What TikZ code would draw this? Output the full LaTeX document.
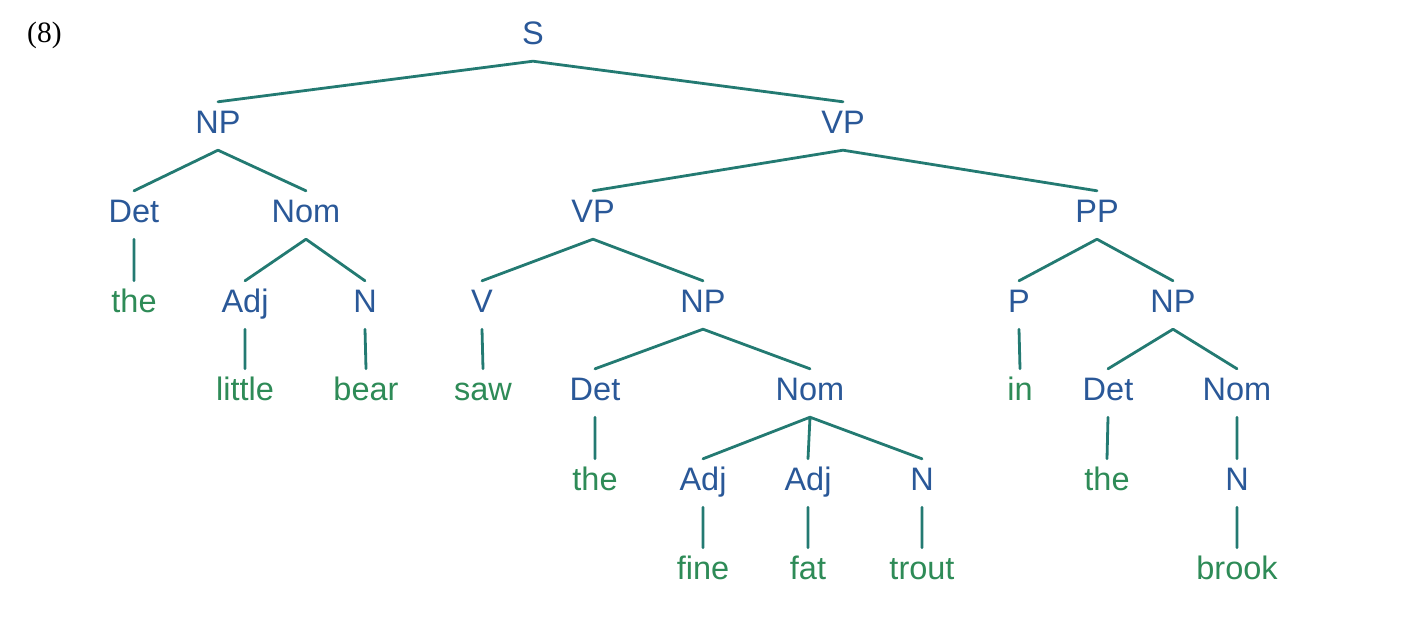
\documentclass[tikz,border=0pt]{standalone}
\usepackage{fontspec}
\setmainfont{Liberation Sans}
\newfontfamily\serifnum{Liberation Serif}
\definecolor{catblue}{HTML}{2A5898}
\definecolor{wordgreen}{HTML}{2E8B57}
\definecolor{edgeteal}{HTML}{237A72}
\tikzset{
  lbl/.style={anchor=base, inner xsep=0pt, inner ysep=9pt, text height=22pt, text depth=8pt,
    font=\fontsize{32.5}{36}\selectfont},
  cat/.style={lbl, text=catblue},
  word/.style={lbl, text=wordgreen},
  edge/.style={draw=edgeteal, line width=2.8pt, line cap=round}
}
\begin{document}
\begin{tikzpicture}[x=1pt, y={(0pt,-1pt)}]
\useasboundingbox (0,0) rectangle (1418,622);
\node[anchor=base west, inner sep=0pt, font=\serifnum\fontsize{29.5}{34}\selectfont] (ex) at (27,42) {(8)};
% row 1
\node[cat] (S) at (533,44) {S};
% row 2
\node[cat] (NP) at (218,133) {NP};
\node[cat] (VP) at (843,133) {VP};
% row 3
\node[cat] (Det) at (134,222) {Det};
\node[cat] (Nom) at (306,222) {Nom};
\node[cat] (VPb) at (593,222) {VP};
\node[cat] (PP) at (1097,222) {PP};
% row 4
\node[word] (the) at (134,312) {the};
\node[cat] (Adj) at (245,312) {Adj};
\node[cat] (N) at (365,312) {N};
\node[cat] (V) at (482,312) {V};
\node[cat] (NPb) at (703,312) {NP};
\node[cat] (P) at (1019,312) {P};
\node[cat] (NPc) at (1173,312) {NP};
% row 5
\node[word] (little) at (245,400) {little};
\node[word] (bear) at (366,400) {bear};
\node[word] (saw) at (483,400) {saw};
\node[cat] (Detb) at (595,400) {Det};
\node[cat] (Nomb) at (810,400) {Nom};
\node[word] (in) at (1020,400) {in};
\node[cat] (Detc) at (1108,400) {Det};
\node[cat] (Nomc) at (1237,400) {Nom};
% row 6
\node[word] (theb) at (595,490) {the};
\node[cat] (Adjb) at (703,490) {Adj};
\node[cat] (Adjc) at (808,490) {Adj};
\node[cat] (Nb) at (922,490) {N};
\node[word] (thec) at (1107,490) {the};
\node[cat] (Nc) at (1237,490) {N};
% row 7
\node[word] (fine) at (703,579) {fine};
\node[word] (fat) at (808,579) {fat};
\node[word] (trout) at (922,579) {trout};
\node[word] (brook) at (1237,579) {brook};
% edges
\path[edge]
  (S.south) -- (NP.north)
  (S.south) -- (VP.north)
  (NP.south) -- (Det.north)
  (NP.south) -- (Nom.north)
  (VP.south) -- (VPb.north)
  (VP.south) -- (PP.north)
  (Det.south) -- (the.north)
  (Nom.south) -- (Adj.north)
  (Nom.south) -- (N.north)
  (VPb.south) -- (V.north)
  (VPb.south) -- (NPb.north)
  (PP.south) -- (P.north)
  (PP.south) -- (NPc.north)
  (Adj.south) -- (little.north)
  (N.south) -- (bear.north)
  (V.south) -- (saw.north)
  (NPb.south) -- (Detb.north)
  (NPb.south) -- (Nomb.north)
  (P.south) -- (in.north)
  (NPc.south) -- (Detc.north)
  (NPc.south) -- (Nomc.north)
  (Detb.south) -- (theb.north)
  (Nomb.south) -- (Adjb.north)
  (Nomb.south) -- (Adjc.north)
  (Nomb.south) -- (Nb.north)
  (Detc.south) -- (thec.north)
  (Nomc.south) -- (Nc.north)
  (Adjb.south) -- (fine.north)
  (Adjc.south) -- (fat.north)
  (Nb.south) -- (trout.north)
  (Nc.south) -- (brook.north);
\end{tikzpicture}
\end{document}
